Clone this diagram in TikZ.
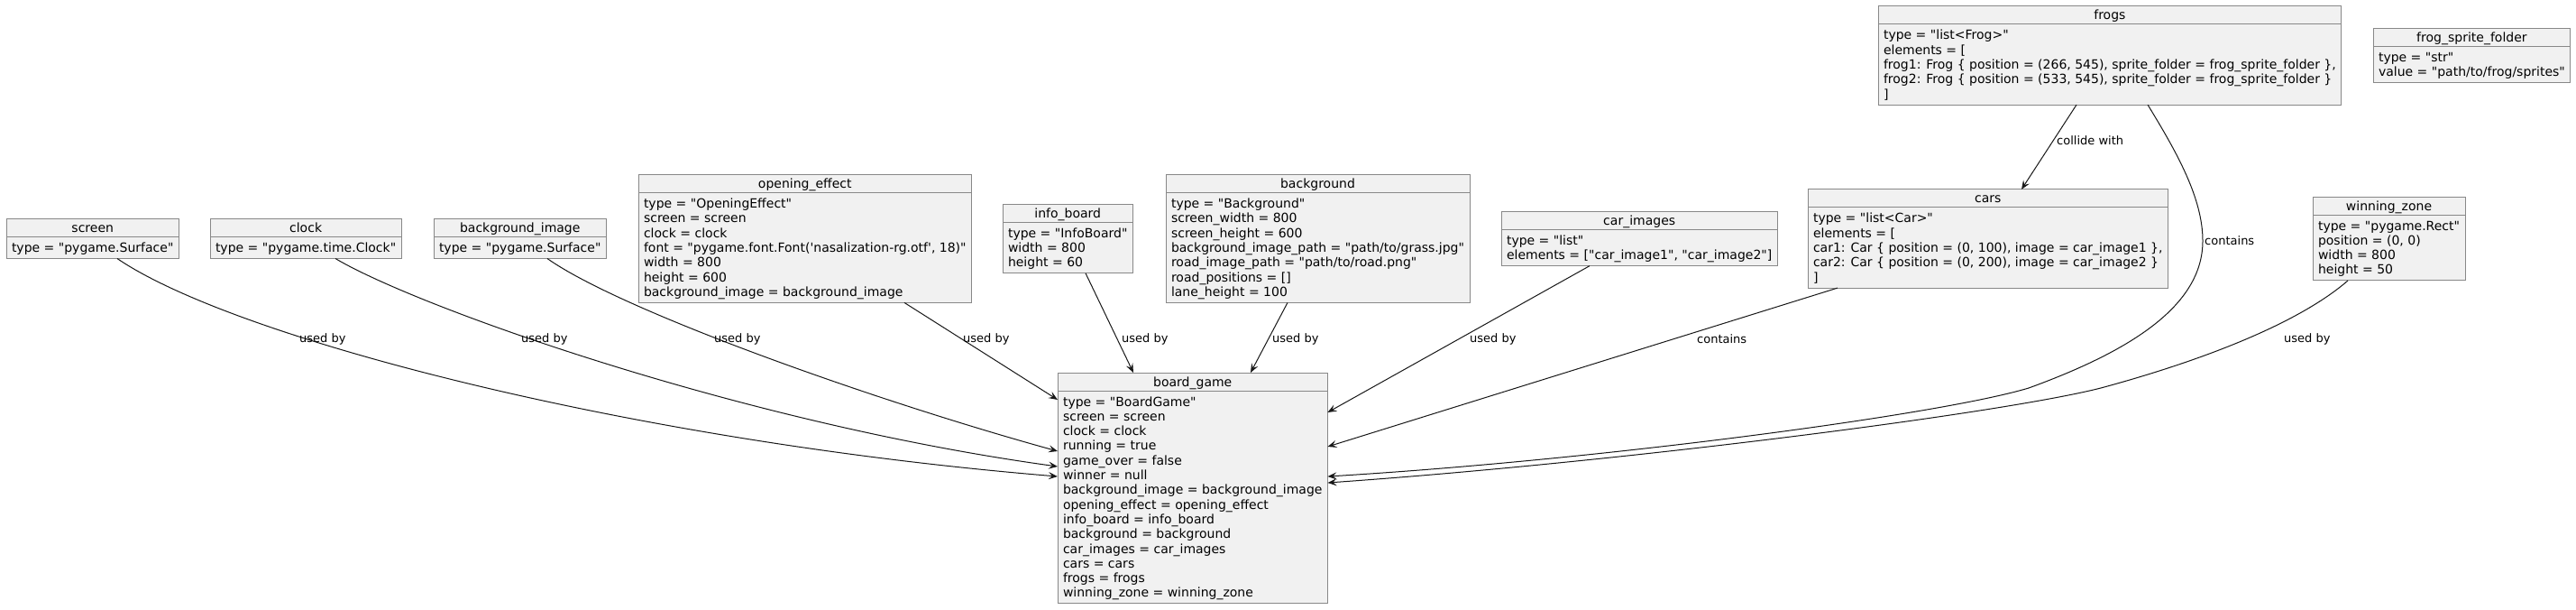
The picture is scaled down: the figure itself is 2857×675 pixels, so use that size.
\documentclass[tikz,border=0pt]{standalone}
\usepackage{fontspec}
\setmainfont{DejaVu Sans}[Ligatures=TeXOff]
\usetikzlibrary{arrows.meta,calc}
\definecolor{boxfill}{HTML}{F1F1F1}
\definecolor{boxline}{HTML}{888888}
\definecolor{edgecol}{HTML}{181818}
\newcommand{\ap}{\char39\relax}
\newcommand{\q}{\char34\relax}
\newcommand{\objbox}[5]{%
  \node[objnode, anchor=north west] (#1) at (#2,-#3) {\rule{0pt}{37pt}#5\rule[-7pt]{0pt}{7pt}};
  \draw[sepline] ([yshift=-20pt]#1.north west) -- ([yshift=-20pt]#1.north east);
  \node[titlenode] (#1-title) at ([yshift=-15pt]#1.north) {#4};
}
\tikzset{
  objnode/.style={draw=boxline, fill=boxfill, line width=1pt, inner xsep=6pt, inner ysep=0pt, outer sep=0pt,
    align=left, font=\fontsize{14pt}{16.3pt}\selectfont, text=black},
  sepline/.style={draw=boxline, line width=1pt},
  titlenode/.style={anchor=base, inner sep=0pt, font=\fontsize{14pt}{16.3pt}\selectfont, text=black},
  conn/.style={draw=edgecol, line width=1pt, -{Stealth[length=10pt,width=8pt,inset=4pt]}},
  lbl/.style={anchor=base west, inner sep=0pt, font=\fontsize{13pt}{15pt}\selectfont, text=black}
}
\begin{document}
\begin{tikzpicture}[x=1pt,y=1pt]
\fill[white] (0,0) rectangle (2857,-675);
\path[use as bounding box] (0,0) rectangle (2857,-675);

\objbox{screen}{7}{242.5}{screen}{type = \q pygame.Surface\q}
\objbox{clock}{233}{242.5}{clock}{type = \q pygame.time.Clock\q}
\objbox{bgimage}{481}{242.5}{background\_image}{type = \q pygame.Surface\q}
\objbox{opening}{708}{193.6}{opening\_effect}{type = \q OpeningEffect\q\\screen = screen\\clock = clock\\font = \q pygame.font.Font(\ap nasalization-rg.otf\ap, 18)\q\\width = 800\\height = 600\\background\_image = background\_image}
\objbox{info}{1112}{226.2}{info\_board}{type = \q InfoBoard\q\\width = 800\\height = 60}
\objbox{background}{1293}{193.6}{background}{type = \q Background\q\\screen\_width = 800\\screen\_height = 600\\background\_image\_path = \q path/to/grass.jpg\q\\road\_image\_path = \q path/to/road.png\q\\road\_positions = []\\lane\_height = 100}
\objbox{carimages}{1665}{234.35}{car\_images}{type = \q list\q\\elements = [\q car\_image1\q, \q car\_image2\q]}
\objbox{cars}{2005}{209.9}{cars}{type = \q list<Car>\q\\elements = [\\car1: Car \{ position = (0, 100), image = car\_image1 \},\\car2: Car \{ position = (0, 200), image = car\_image2 \}\\]}
\objbox{frogs}{2083}{6.9}{frogs}{type = \q list<Frog>\q\\elements = [\\frog1: Frog \{ position = (266, 545), sprite\_folder = frog\_sprite\_folder \},\\frog2: Frog \{ position = (533, 545), sprite\_folder = frog\_sprite\_folder \}\\]}
\objbox{fsf}{2632}{31.35}{frog\_sprite\_folder}{type = \q str\q\\value = \q path/to/frog/sprites\q}
\objbox{winning}{2565}{218.05}{winning\_zone}{type = \q pygame.Rect\q\\position = (0, 0)\\width = 800\\height = 50}
\objbox{board}{1173}{413}{board\_game}{type = \q BoardGame\q\\screen = screen\\clock = clock\\running = true\\game\_over = false\\winner = null\\background\_image = background\_image\\opening\_effect = opening\_effect\\info\_board = info\_board\\background = background\\car\_images = car\_images\\cars = cars\\frogs = frogs\\winning\_zone = winning\_zone}

% connectors
\draw[conn] ([xshift=123pt]screen.south west) .. controls (260,-375) and (700,-489) .. ([yshift=-115pt]board.north west);
\draw[conn] ([xshift=139pt]clock.south west) .. controls (462,-340) and (823,-469) .. ([yshift=-104pt]board.north west);
\draw[conn] ([xshift=126pt]bgimage.south west) .. controls (690,-345) and (973,-445) .. ([yshift=-87pt]board.north west);
\draw[conn] ([xshift=295pt]opening.south west) -- ([yshift=-30pt]board.north west);
\draw[conn] ([xshift=92pt]info.south west) -- ([xshift=84pt]board.north west);
\draw[conn] ([xshift=135pt]background.south west) -- ([xshift=214pt]board.north west);
\draw[conn] ([xshift=98pt]carimages.south west) -- ([yshift=-44pt]board.north east);
\draw[conn] ([xshift=33pt]cars.south west) -- ([yshift=-82pt]board.north east);
\draw[conn] ([xshift=220pt]frogs.south west) -- ([xshift=237pt]cars.north west);
\draw[conn] ([xshift=299pt]frogs.south west) .. controls (2415,-170) and (2443,-220) .. (2443,-267)
  .. controls (2443,-340) and (2360,-390) .. (2250,-430)
  .. controls (2150,-460) and (1772,-510) .. ([yshift=-115pt]board.north east);
\draw[conn] ([xshift=39pt]winning.south west) .. controls (2545,-362) and (2430,-403) .. (2330,-430)
  .. controls (2220,-458) and (1800,-512) .. ([yshift=-122pt]board.north east);

% labels
\node[lbl] (l1) at (332,-379) {used by};
\node[lbl] (l2) at (578,-379) {used by};
\node[lbl] (l3) at (792,-379) {used by};
\node[lbl] (l4) at (1068,-379) {used by};
\node[lbl] (l5) at (1244,-379) {used by};
\node[lbl] (l6) at (1411,-379) {used by};
\node[lbl] (l7) at (1630,-379) {used by};
\node[lbl] (l8) at (1882,-380) {contains};
\node[lbl] (l9) at (2281,-160) {collide with};
\node[lbl] (l10) at (2445,-271) {contains};
\node[lbl] (l11) at (2533,-379) {used by};
\end{tikzpicture}
\end{document}
